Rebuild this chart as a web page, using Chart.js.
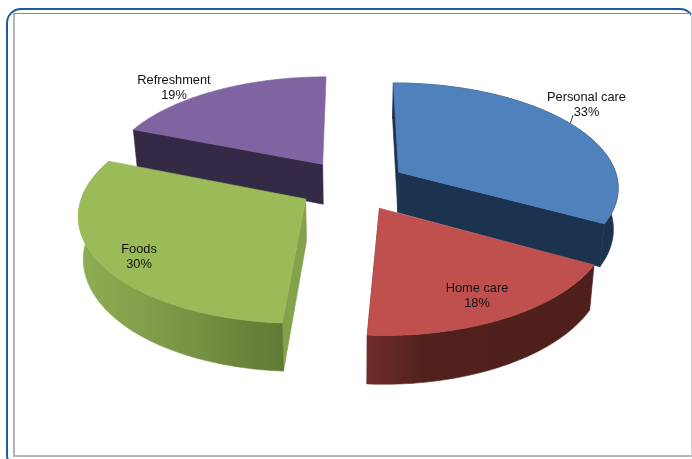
<!DOCTYPE html>
<html>
<head>
<meta charset="utf-8">
<script src="https://cdn.jsdelivr.net/npm/chart.js@4/dist/chart.umd.js"></script>
<style>
  html, body { margin: 0; padding: 0; background: #fff; }
  #page { position: relative; width: 692px; height: 459px; overflow: hidden; }
  #outer { position: absolute; left: 6px; top: 8px; width: 685px; height: 458px; border: 2.5px solid #1f5c9e; border-radius: 15px; }
  #inner { position: absolute; left: 13px; top: 13px; width: 676px; height: 441px; border-style: solid; border-width: 1.5px 1px 2px 2px; border-color: #8c8c8c #d0d0d0 #b4b4b4 #b4b4b4; }
  #myChart { position: absolute; left: 0; top: 0; }
</style>
</head>
<body>
<div id="page">
  <div id="outer"></div>
  <div id="inner"></div>
  <canvas id="myChart" width="692" height="459"></canvas>
</div>
<script>
const categories = ["Personal care", "Home care", "Foods", "Refreshment"];
const shares = [33, 18, 30, 19];
const topColors = ["#4f81bd", "#c0504d", "#9bbb59", "#8064a2"];

// wall shading per slice: which radial edges show, their colour, rim gradient stops
const wallStyles = [
  { edges: [0, 1], radial: "#1c3350", rim: [[0, "#1c3350"], [1, "#1c3350"]] },
  { edges: [1], radial: "#5c2522", rim: [[0, "#702c29"], [0.25, "#52211e"], [1, "#4e1f1c"]] },
  { edges: [0], radial: "#84a14b", rim: [[0, "#8fae52"], [0.5, "#7a9645"], [1, "#5f7a33"]] },
  { edges: [0], radial: "#352a45", rim: null }, // its rim faces away
];

// 3D look: the pie plane is projected with a small perspective
const view = { cx: 352.5, cy: 185, rx: 220.5, ry: 104, k: 0.131, depth: 41, shrink: 0.982, explode: 0.247 };
const drawOrder = [3, 0, 2, 1];
const labelSpots = [[586.5, 97], [477, 288], [139, 249], [174, 80]];

function project(u, v, down) {
  const s = 1 / (1 - view.k * v);
  let x = view.cx + u * view.rx * s;
  let y = view.cy + v * view.ry * s;
  if (down) {
    x = view.cx + (x - view.cx) * view.shrink;
    y += view.depth * s;
  }
  return [x, y];
}

function sliceOutline(arc) {
  const mid = (arc.startAngle + arc.endAngle) / 2;
  const u0 = Math.cos(mid) * view.explode;
  const v0 = Math.sin(mid) * view.explode;
  const rim = [];
  const steps = 80;
  for (let i = 0; i <= steps; i++) {
    const a = arc.startAngle + (arc.endAngle - arc.startAngle) * i / steps;
    rim.push([u0 + Math.cos(a), v0 + Math.sin(a)]);
  }
  return { apex: [u0, v0], rim };
}

function fillPoly(ctx, pts, fill) {
  ctx.beginPath();
  pts.forEach((p, i) => (i ? ctx.lineTo(p[0], p[1]) : ctx.moveTo(p[0], p[1])));
  ctx.closePath();
  ctx.fillStyle = fill;
  ctx.strokeStyle = fill;
  ctx.lineWidth = 0.6;
  ctx.fill();
  ctx.stroke();
}

const pie3d = {
  id: "pie3d",
  beforeDatasetsDraw(chart) {
    const ctx = chart.ctx;
    const arcs = chart.getDatasetMeta(0).data;
    drawOrder.forEach((i) => {
      const arc = arcs[i];
      const style = wallStyles[i];
      const { apex, rim } = sliceOutline(arc);

      // radial walls
      style.edges.forEach((e) => {
        const p = e ? rim[rim.length - 1] : rim[0];
        fillPoly(ctx, [
          project(apex[0], apex[1]),
          project(p[0], p[1]),
          project(p[0], p[1], true),
          project(apex[0], apex[1], true),
        ], style.radial);
      });

      // outer wall, shaded left to right
      const topEdge = rim.map((p) => project(p[0], p[1]));
      if (style.rim) {
        const lowEdge = rim.map((p) => project(p[0], p[1], true)).reverse();
        const xs = topEdge.concat(lowEdge).map((p) => p[0]);
        const grad = ctx.createLinearGradient(Math.min(...xs), 0, Math.max(...xs), 0);
        style.rim.forEach((s) => grad.addColorStop(s[0], s[1]));
        fillPoly(ctx, topEdge.concat(lowEdge), grad);
      }

      // top face
      fillPoly(ctx, [project(apex[0], apex[1])].concat(topEdge), arc.options.backgroundColor);
    });
    return false;
  },
  afterDraw(chart) {
    const ctx = chart.ctx;
    ctx.save();
    ctx.fillStyle = "#111";
    ctx.font = "12.8px 'Liberation Sans', Arial, sans-serif";
    ctx.textAlign = "center";
    ctx.textBaseline = "middle";
    categories.forEach((name, i) => {
      ctx.fillText(name, labelSpots[i][0], labelSpots[i][1]);
      ctx.fillText(shares[i] + "%", labelSpots[i][0], labelSpots[i][1] + 15);
    });
    // leader line of the first label
    ctx.strokeStyle = "#333";
    ctx.lineWidth = 1;
    ctx.beginPath();
    ctx.moveTo(570.5, 123);
    ctx.lineTo(573, 115);
    ctx.stroke();
    ctx.restore();
  },
};

new Chart(document.getElementById("myChart"), {
  type: "pie",
  data: {
    labels: categories,
    datasets: [
      {
        data: shares,
        backgroundColor: topColors,
        borderWidth: 0,
      },
    ],
  },
  options: {
    responsive: false,
    animation: false,
    plugins: {
      legend: { display: false },
      tooltip: { enabled: false },
    },
  },
  plugins: [pie3d],
});
</script>
</body>
</html>
